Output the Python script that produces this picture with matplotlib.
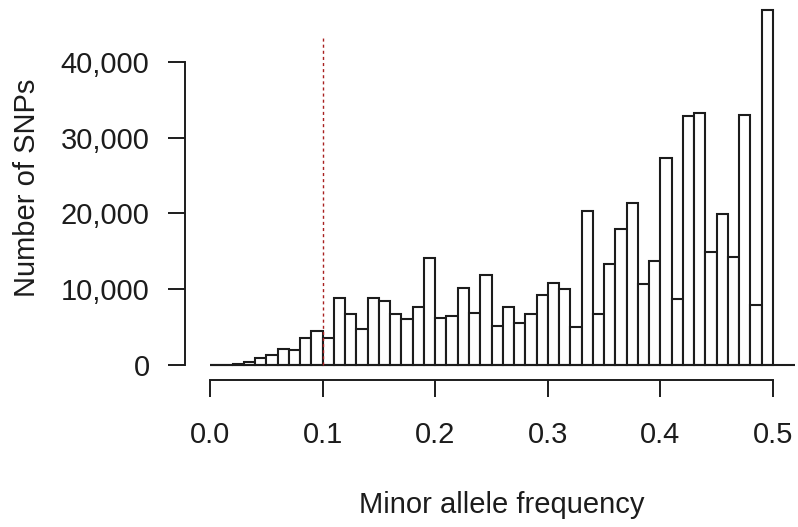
import matplotlib
matplotlib.use("Agg")
import matplotlib.pyplot as plt
from matplotlib.ticker import FuncFormatter
import numpy as np

plt.rcParams['font.family'] = ['Liberation Sans', 'DejaVu Sans']

# Histogram data: 50 bins of width 0.01 from 0 to 0.5
bin_edges = [round(i * 0.01, 2) for i in range(51)]
snp_counts = [30, 60, 150, 350, 950, 1300, 2100, 2000, 3500, 4500,
              3500, 8850, 6750, 4750, 8850, 8450, 6750, 6050, 7650, 14050,
              6150, 6500, 10100, 6900, 11900, 5200, 7600, 5550, 6700, 9200,
              10850, 10000, 4950, 20250, 6700, 13300, 17950, 21350, 10700, 13750,
              27350, 8650, 32850, 33250, 14950, 19900, 14250, 33000, 7950, 46800]
x_ticks = [0.0, 0.1, 0.2, 0.3, 0.4, 0.5]
x_tick_labels = ["0.0", "0.1", "0.2", "0.3", "0.4", "0.5"]
y_ticks = [0, 10000, 20000, 30000, 40000]
cutoff = 0.1
cutoff_top = 43350
xlabel = "Minor allele frequency"
ylabel = "Number of SNPs"

W, H = 798, 527
fig = plt.figure(figsize=(W / 100, H / 100), dpi=100)
ax = fig.add_axes([185 / W, (H - 380) / H, (W - 185) / W, 380 / H])

x0_px, x_per = 210, 1126.0          # pixel of 0.0, pixels per unit
y0_px, y_per = 365.0, (365 - 61.7) / 40000
ax.set_xlim((185 - x0_px) / x_per, (W - x0_px) / x_per)
ax.set_ylim(-(380 - y0_px) / y_per, y0_px / y_per)
ax.patch.set_alpha(0)

ink = '#1c1c1c'
ax.bar(bin_edges[:-1], snp_counts, width=0.01, align='edge',
       facecolor='white', edgecolor=ink, linewidth=1.5, zorder=2)
ax.plot([0, 0.5195], [0, 0], color=ink, lw=1.5, zorder=3, solid_capstyle='butt')
ax.vlines(cutoff, 0, cutoff_top, colors='#a82020', linestyles=(0, (2.2, 2.2)),
          lw=1.0, zorder=4)

for s in ['top', 'right']:
    ax.spines[s].set_visible(False)
for s in ['left', 'bottom']:
    ax.spines[s].set_color(ink)
    ax.spines[s].set_linewidth(1.4)
ax.spines['left'].set_bounds(0, 40000)
ax.spines['bottom'].set_bounds(0, 0.5)

ax.set_xticks(x_ticks)
ax.set_xticklabels(x_tick_labels)
ax.set_yticks(y_ticks)
ax.yaxis.set_major_formatter(FuncFormatter(lambda v, p: f"{int(v):,}"))
ax.tick_params(axis='both', direction='out', length=12.5, width=1.4,
               color=ink, labelcolor=ink, labelsize=21)
ax.tick_params(axis='y', pad=13)
ax.tick_params(axis='x', pad=17)

fig.text(502 / W, 1 - 505 / H, xlabel, ha='center', va='center',
         fontsize=21, color=ink)
fig.text(27 / W, 1 - 188 / H, ylabel, ha='center', va='center',
         rotation=90, fontsize=21, color=ink)

fig.savefig("out.png", dpi=100, facecolor='white')
